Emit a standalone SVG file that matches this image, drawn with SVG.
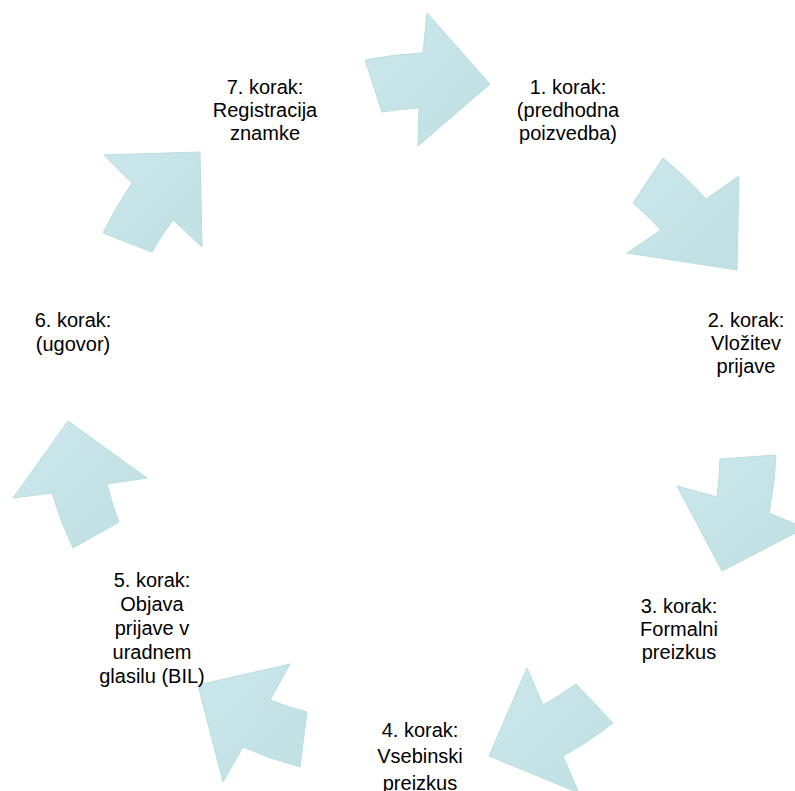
<svg xmlns="http://www.w3.org/2000/svg" width="795" height="791" viewBox="0 0 795 791">
<defs>
<linearGradient id="g" x1="0" y1="0" x2="1" y2="1">
<stop offset="0" stop-color="#cce7eb"/>
<stop offset="1" stop-color="#bfe0e4"/>
</linearGradient>
<style>
.arr{fill:url(#g);stroke:#b9dde2;stroke-width:1;stroke-linejoin:round}
.t{font-family:"Liberation Sans",Arial,sans-serif;font-size:20px;fill:#000;text-anchor:middle}
</style>
</defs>
<rect width="795" height="791" fill="#ffffff"/>
<g id="connectors">
<path id="arrow1" class="arr" d="M365,60 A365,365 0 0 1 423,53 L427,13 L490,84 L418,146 L419,108 A311,311 0 0 0 382,112 Z"/>
<path id="arrow2" class="arr" d="M663,158 A365,365 0 0 1 706,199 L739,176 L737,270 L627,253 L661,230 A311,311 0 0 0 633,203 Z"/>
<path id="arrow3" class="arr" d="M776,455 A365,365 0 0 1 769,513 L805,528 L722,571 L677,486 L717,497 A311,311 0 0 0 720,459 Z"/>
<path id="arrow4" class="arr" d="M613,723 A365,365 0 0 1 563,756 L579,793 L489,756 L527,668 L543,705 A311,311 0 0 0 576,684 Z"/>
<path id="arrow5" class="arr" d="M300,767 A365,365 0 0 1 243,747 L223,782 L198,685 L290,664 L270,700 A311,311 0 0 0 307,712 Z"/>
<path id="arrow6" class="arr" d="M73,548 A365,365 0 0 1 52,493 L13,498 L68,421 L147,478 L107,484 A311,311 0 0 0 119,522 Z"/>
<path id="arrow7" class="arr" d="M103,233 A365,365 0 0 1 132,183 L104,155 L200,152 L202,247 L173,220 A311,311 0 0 0 152,252 Z"/>
</g>
<g id="node1"><text class="t" x="568" y="94">1. korak:</text><text class="t" x="568" y="117">(predhodna</text><text class="t" x="568" y="140">poizvedba)</text></g>
<g id="node2"><text class="t" x="746" y="327">2. korak:</text><text class="t" x="746" y="350">Vložitev</text><text class="t" x="746" y="373">prijave</text></g>
<g id="node3"><text class="t" x="679" y="613">3. korak:</text><text class="t" x="679" y="636">Formalni</text><text class="t" x="679" y="659">preizkus</text></g>
<g id="node4"><text class="t" x="420" y="737">4. korak:</text><text class="t" x="420" y="763">Vsebinski</text><text class="t" x="420" y="790">preizkus</text></g>
<g id="node5"><text class="t" x="152" y="587">5. korak:</text><text class="t" x="152" y="611">Objava</text><text class="t" x="152" y="635">prijave v</text><text class="t" x="152" y="659">uradnem</text><text class="t" x="152" y="683">glasilu (BIL)</text></g>
<g id="node6"><text class="t" x="73" y="327">6. korak:</text><text class="t" x="73" y="351">(ugovor)</text></g>
<g id="node7"><text class="t" x="265" y="94">7. korak:</text><text class="t" x="265" y="117">Registracija</text><text class="t" x="265" y="140">znamke</text></g>
</svg>
